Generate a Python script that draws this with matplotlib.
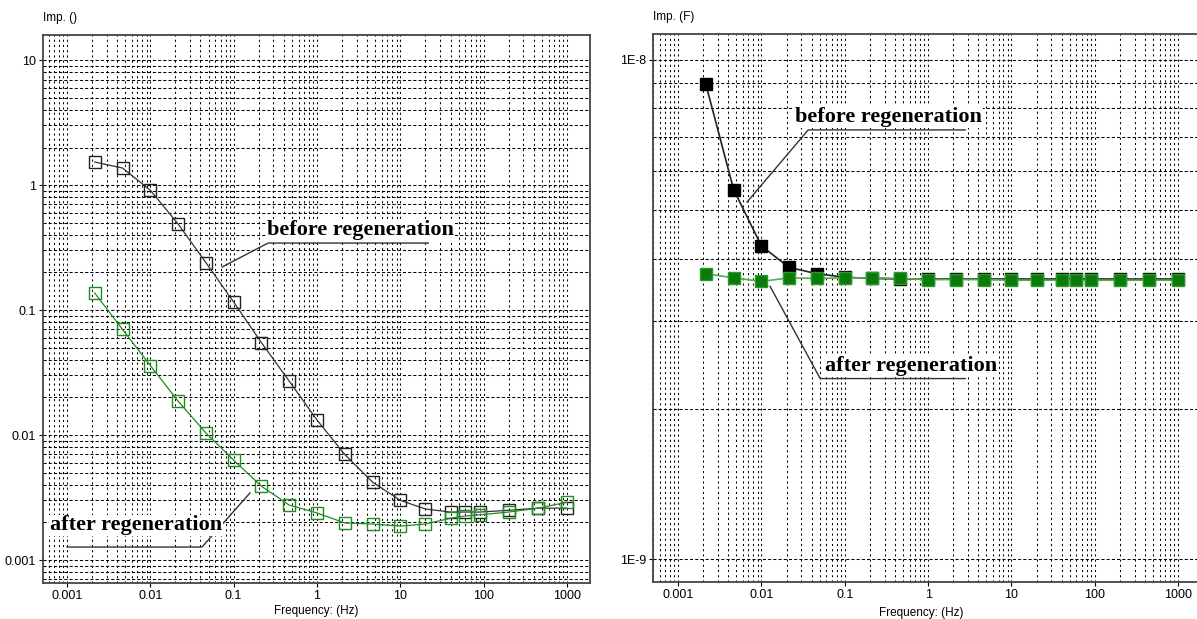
import numpy as np
import matplotlib
matplotlib.use("Agg")
import matplotlib.pyplot as plt
from matplotlib.ticker import LogLocator, FixedLocator, FixedFormatter, NullFormatter

# frequencies (Hz)
freq = [0.00215, 0.00464, 0.01, 0.0215, 0.0464, 0.1, 0.215, 0.464, 1, 2.15,
        4.64, 10, 20, 40, 60, 90, 200, 450, 1000]

# left panel: impedance ()
imp_before = [1.53, 1.37, 0.91, 0.49, 0.24, 0.116, 0.055, 0.027, 0.0132, 0.0070,
              0.0042, 0.0030, 0.00256, 0.00242, 0.00242, 0.00242, 0.0025, 0.0026, 0.0026]
imp_after = [0.137, 0.070, 0.036, 0.0187, 0.0104, 0.0063, 0.0039, 0.00275, 0.00238, 0.00198,
             0.00194, 0.00187, 0.00194, 0.00216, 0.00225, 0.0023, 0.00242, 0.0026, 0.0029]

# right panel: capacitance (F)
cap_before = [8.95e-9, 5.5e-9, 4.24e-9, 3.84e-9, 3.73e-9, 3.67e-9, 3.65e-9, 3.64e-9, 3.64e-9, 3.64e-9,
              3.64e-9, 3.64e-9, 3.64e-9, 3.64e-9, 3.64e-9, 3.64e-9, 3.64e-9, 3.64e-9, 3.64e-9]
cap_after = [3.73e-9, 3.66e-9, 3.60e-9, 3.66e-9, 3.65e-9, 3.66e-9, 3.66e-9, 3.65e-9, 3.63e-9, 3.63e-9,
             3.63e-9, 3.62e-9, 3.62e-9, 3.62e-9, 3.62e-9, 3.62e-9, 3.62e-9, 3.62e-9, 3.62e-9]

x_ticks = [0.001, 0.01, 0.1, 1, 10, 100, 1000]
x_labels = ["0.001", "0.01", "0.1", "1", "10", "100", "1000"]
left_yticks = [0.001, 0.01, 0.1, 1, 10]
left_ylabels = ["0.001", "0.01", "0.1", "1", "10"]
right_yticks = [1e-9, 1e-8]
right_ylabels = ["1E-9", "1E-8"]

green = "#1e8c1e"
plt.rcParams['font.family'] = ['Liberation Sans', 'DejaVu Sans']

fig = plt.figure(figsize=(11.97, 6.19), dpi=100)
ax1 = fig.add_axes([0.0359, 0.0582, 0.457, 0.885])
ax2 = fig.add_axes([0.5455, 0.0598, 0.458, 0.8853])


def style_axes(ax, yticks, ylabels):
    ax.set_xscale("log")
    ax.set_yscale("log")
    ax.xaxis.set_major_locator(FixedLocator(x_ticks))
    ax.xaxis.set_major_formatter(FixedFormatter(x_labels))
    ax.xaxis.set_minor_locator(LogLocator(base=10, subs=np.arange(2, 10), numticks=20))
    ax.xaxis.set_minor_formatter(NullFormatter())
    ax.yaxis.set_major_locator(FixedLocator(yticks))
    ax.yaxis.set_major_formatter(FixedFormatter(ylabels))
    ax.yaxis.set_minor_locator(LogLocator(base=10, subs=np.arange(2, 10), numticks=20))
    ax.yaxis.set_minor_formatter(NullFormatter())
    ax.tick_params(which="major", length=3, width=0.8, labelsize=9, pad=2)
    ax.tick_params(which="minor", length=0)
    ax.xaxis.grid(True, which="both", color="black", linewidth=0.75, linestyle=(0, (2, 3)))
    ax.yaxis.grid(True, which="both", color="black", linewidth=0.75, linestyle=(0, (3, 2)))
    ax.set_axisbelow(True)
    for s in ax.spines.values():
        s.set_color("#444444")
        s.set_linewidth(1.3)
    ax.set_xlabel("Frequency: (Hz)", fontsize=8.5, labelpad=2)


# left panel
ax1.plot(freq, imp_before, color="#333333", lw=0.9, marker="s", markersize=8,
         markerfacecolor="none", markeredgecolor="#222222", markeredgewidth=1.0)
ax1.plot(freq, imp_after, color=green, lw=0.9, marker="s", markersize=8,
         markerfacecolor="none", markeredgecolor=green, markeredgewidth=1.0)
style_axes(ax1, left_yticks, left_ylabels)
ax1.set_xlim(5.15e-4, 1888)
ax1.set_ylim(6.55e-4, 15.85)
ax1.text(0.0, 1.02, "Imp. ()", transform=ax1.transAxes, fontsize=8.5, va="bottom")

# right panel
ax2.plot(freq, cap_before, color="#222222", lw=1.2, marker="s", markersize=8.5,
         markerfacecolor="black", markeredgecolor="black")
ax2.plot(freq, cap_after, color="#4fb04f", lw=1.2, marker="s", markersize=8.5,
         markerfacecolor="#0a7a0a", markeredgecolor="#2a9a2a")
style_axes(ax2, right_yticks, right_ylabels)
ax2.spines["right"].set_visible(False)
ax2.set_xlim(5.0e-4, 1888)
ax2.set_ylim(9.0e-10, 1.127e-8)
ax2.text(0.0, 1.02, "Imp. (F)", transform=ax2.transAxes, fontsize=8.5, va="bottom")
ax2.xaxis.set_label_coords(0.49, -0.045)

# callouts
txt_kw = dict(fontsize=16, fontweight="bold", family="Liberation Serif", color="black",
              va="center", ha="left",
              bbox=dict(facecolor="white", edgecolor="none", pad=0.5))
line_kw = dict(color="#333333", lw=1.0)

ax1.text(0.25, 0.436, "before regeneration", **txt_kw)
ax1.plot([0.0726, 0.259, 21.6], [0.221, 0.344, 0.344], **line_kw)
ax1.text(0.000625, 0.0019, "after regeneration", **txt_kw)
ax1.plot([0.157, 0.0417, 0.001], [0.00344, 0.00127, 0.00127], **line_kw)

ax2.text(0.0254, 7.68e-9, "before regeneration", **txt_kw)
ax2.plot([0.00672, 0.0364, 2.79], [5.19e-9, 7.24e-9, 7.24e-9], **line_kw)
ax2.text(0.0582, 2.44e-9, "after regeneration", **txt_kw)
ax2.plot([0.0127, 0.0507, 2.79], [3.52e-9, 2.30e-9, 2.30e-9], **line_kw)

fig.savefig("out.png", dpi=100)
